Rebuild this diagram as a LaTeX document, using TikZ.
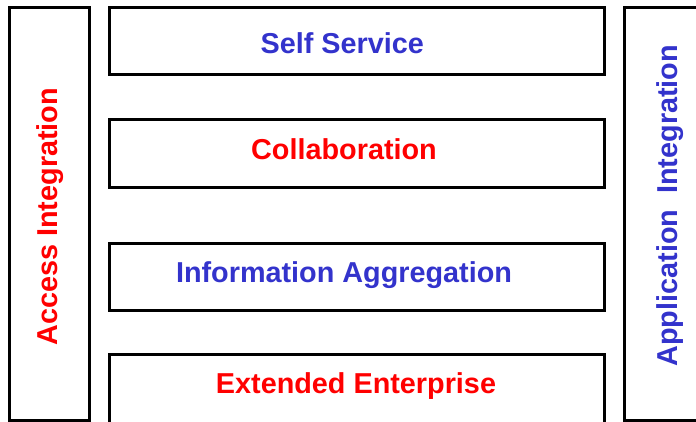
\documentclass[tikz,border=0pt]{standalone}
\usepackage{fontspec}
\setmainfont{Liberation Sans}
\definecolor{layerblue}{RGB}{51,51,204}
\definecolor{layerred}{RGB}{255,0,0}

\begin{document}
\begin{tikzpicture}[x=1pt,y=-1pt,
    layer/.style={draw,line width=3pt,inner sep=0pt,anchor=north west},
    caption/.style={font=\fontsize{28.8}{34}\selectfont\bfseries,inner sep=0pt,anchor=base}]
    \useasboundingbox (0,0) rectangle (696,421);
    \clip (0,0) rectangle (696,421);

    % Define side columns
    \node[layer,minimum width=80pt,minimum height=413pt] (access) at (8,6) {};
    \node[layer,minimum width=90pt,minimum height=413pt] (appl) at (623,6) {};

    \node[caption,text=layerred,rotate=90] (accesstxt) at (57.6,216.7) {Access Integration};
    \node[caption,text=layerblue,rotate=90] (appltxt) at (677.3,205.7) {Application~~Integration};

    % Define middle layers
    \foreach \i/\y/\h/\tx/\ty/\col/\txt in {1/6/67/342.3/53.3/layerblue/Self Service,
        2/118/68/344/159.3/layerred/Collaboration,
        3/242/67/344/282.7/layerblue/Information Aggregation,
        4/353/80/356/393.3/layerred/Extended Enterprise} {
	\node[layer,minimum width=495pt,minimum height=\h pt] (L\i) at (108,\y) {};
	\node[caption,text=\col] (T\i) at (\tx,\ty) {\txt};
    }

\end{tikzpicture}
\end{document}
